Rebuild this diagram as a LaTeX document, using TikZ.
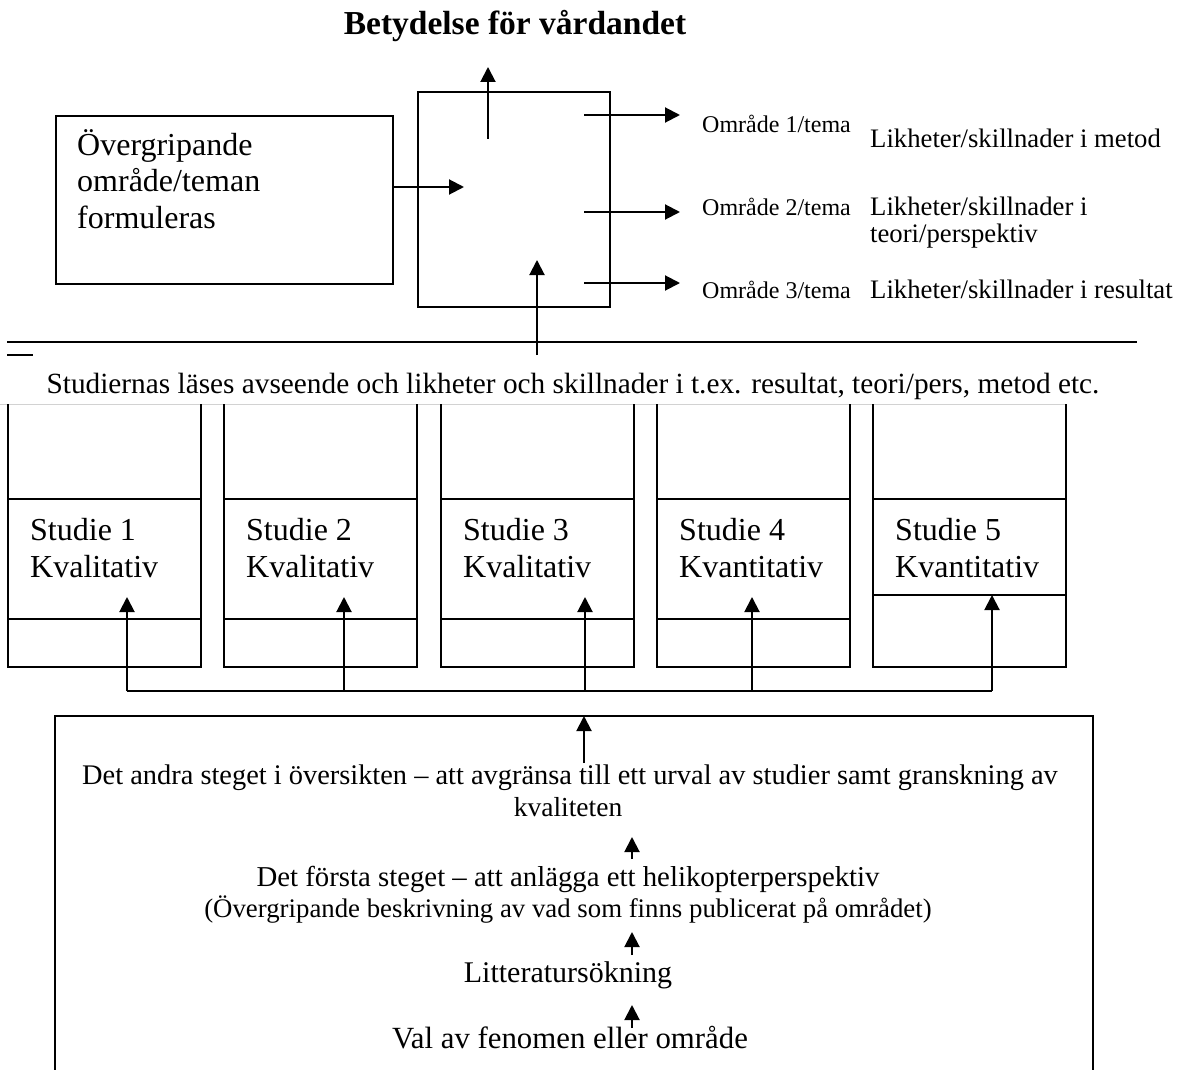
\documentclass[tikz,border=0pt]{standalone}
\usepackage{fontspec}
\setmainfont{Liberation Serif}
\usetikzlibrary{arrows.meta}
\begin{document}
\begin{tikzpicture}[x=1pt,y=-1pt,
  ln/.style={line width=2pt},
  arr/.style={line width=2pt,-{Triangle[length=15pt,width=15pt]}},
  frame/.style={draw,line width=2pt,inner sep=0pt,anchor=north west},
  ghost/.style={draw=none,inner sep=0pt,anchor=north west},
  big/.style={inner sep=0pt,font=\fontsize{32}{36.8}\selectfont},
  mid/.style={inner sep=0pt,font=\fontsize{29.3}{31}\selectfont},
  fs/.style={inner sep=0pt,anchor=base,font=\fontsize{#1}{#1}\selectfont},
  lik/.style={inner sep=0pt,font=\fontsize{26.7}{27}\selectfont},
  omr/.style={inner sep=0pt,font=\fontsize{24}{26}\selectfont},
  ttl/.style={inner sep=0pt,font=\fontsize{33.5}{36}\selectfont\bfseries}]
\useasboundingbox[fill=white] (0,0) rectangle (1183,1070);

% title
\node[ttl,anchor=base] (title) at (515,35) {Betydelse för vårdandet};

% left box
\node[frame,minimum width=337pt,minimum height=168pt] (lbox) at (55,115) {};
\node[big,anchor=base west,align=left] (ltext) at (77,228.6) {Övergripande\\område/teman\\formuleras};

% middle box
\node[frame,minimum width=192pt,minimum height=215pt] (mbox) at (417,91) {};
\coordinate (tipL) at (464,187);
\draw[arr] (lbox.east |- tipL) -- (tipL);
\coordinate (upS) at (488,139);
\coordinate (upT) at (488,67);
\draw[arr] (upS) -- (upT);

% right labels
\node[omr,anchor=base west] (o1) at (702,132) {Område 1/tema};
\node[omr,anchor=base west] (o2) at (702,215) {Område 2/tema};
\node[omr,anchor=base west] (o3) at (702,298) {Område 3/tema};
\node[lik,anchor=base west] (l1) at (870,148) {Likheter/skillnader i metod};
\node[lik,anchor=base west,align=left] (l2) at (870,242) {Likheter/skillnader i\\teori/perspektiv};
\node[lik,anchor=base west] (l3) at (870,298) {Likheter/skillnader i resultat};
\coordinate (r1s) at (584,115); \coordinate (r1t) at (680,115);
\coordinate (r2s) at (584,212); \coordinate (r2t) at (680,212);
\coordinate (r3s) at (584,283); \coordinate (r3t) at (680,283);
\draw[arr] (r1s) -- (r1t);
\draw[arr] (r2s) -- (r2t);
\draw[arr] (r3s) -- (r3t);

% horizontal rule and arrow into box
\coordinate (hlA) at (7,342); \coordinate (hlB) at (1137,342);
\draw[ln] (hlA) -- (hlB);
\coordinate (dsA) at (7,355); \coordinate (dsB) at (33,355);
\draw[line width=1.5pt] (dsA) -- (dsB);
\coordinate (vb) at (537,355); \coordinate (vt) at (537,260);
\draw[arr] (vb) -- (vt);

% reading line
\node[mid,anchor=base] (read) at (573,393) {Studiernas läses avseende och likheter och skillnader i t.ex. resultat, teori/pers, metod etc.};
\fill[white] (0,404.5) rectangle (1183,420);
\coordinate (gA) at (0,404); \coordinate (gB) at (1066,404);
\draw[gray!35,line width=1pt] (gA) -- (gB);

% study columns
\foreach \i/\xl/\ax/\lab/\dv/\tp in {1/8/127/Kvalitativ/619/597, 2/224/344/Kvalitativ/619/597, 3/441/585/Kvalitativ/619/597, 4/657/752/Kvantitativ/619/597, 5/873/992/Kvantitativ/595/595}{
  \node[ghost,minimum width=193pt,minimum height=263pt] (s\i) at (\xl,404) {};
  \draw[ln] (s\i.north west) -- (s\i.south west) -- (s\i.south east) -- (s\i.north east);
  \coordinate (dA\i) at (\xl,499);
  \coordinate (dB\i) at (\xl,\dv);
  \draw[ln] (dA\i) -- (dA\i -| s\i.east);
  \draw[ln] (dB\i) -- (dB\i -| s\i.east);
  \node[big,anchor=base west,align=left] (st\i) at (\xl+22,577) {Studie \i\\\lab};
  \coordinate (bus\i) at (\ax,691);
  \coordinate (tip\i) at (\ax,\tp);
  \draw[arr] (bus\i) -- (tip\i);
}
\draw[ln] (bus1) -- (bus5);

% bottom box
\node[ghost,minimum width=1038pt,minimum height=360pt] (bbox) at (55,716) {};
\draw[ln] (bbox.south west) -- (bbox.north west) -- (bbox.north east) -- (bbox.south east);

\node[fs=28.4] (d1) at (570,784) {Det andra steget i översikten – att avgränsa till ett urval av studier samt granskning av};
\node[fs=27.5] (d2) at (568,816) {kvaliteten};
\node[fs=28.8] (d3) at (568,886) {Det första steget – att anlägga ett helikopterperspektiv};
\node[fs=26.8] (d4) at (568,917) {(Övergripande beskrivning av vad som finns publicerat på området)};
\node[fs=30] (d5) at (568,982) {Litteratursökning};
\node[fs=30.8] (d6) at (570,1048) {Val av fenomen eller område};

\coordinate (b0s) at (584,763); \coordinate (b0t) at (584,716);
\draw[arr] (b0s) -- (b0t);
\coordinate (b1s) at (632,859); \coordinate (b1t) at (632,837);
\coordinate (b2s) at (632,955); \coordinate (b2t) at (632,932);
\coordinate (b3s) at (632,1028); \coordinate (b3t) at (632,1005);
\draw[arr] (b1s) -- (b1t);
\draw[arr] (b2s) -- (b2t);
\draw[arr] (b3s) -- (b3t);
\end{tikzpicture}
\end{document}
